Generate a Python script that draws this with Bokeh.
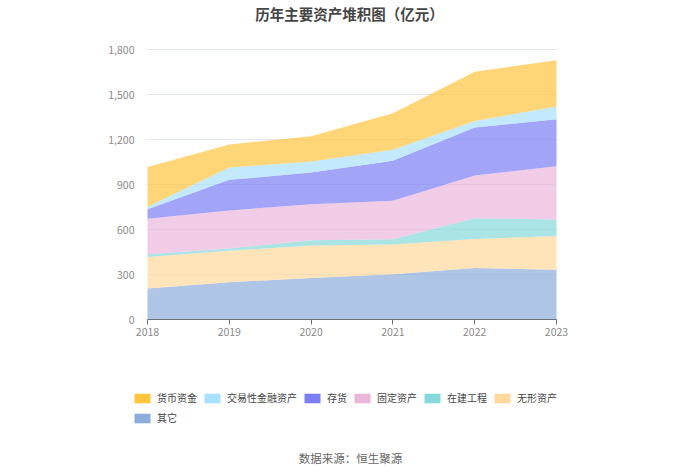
from bokeh.plotting import figure
from bokeh.models import (ColumnDataSource, Legend, LegendItem, Label, NumeralTickFormatter,
                          FixedTicker, Range1d)
from bokeh.embed import file_html
from bokeh.resources import INLINE

years = [2018, 2019, 2020, 2021, 2022, 2023]
qita = [206, 249, 277, 302, 344, 331]          # 其它
wuxing = [211, 209, 216, 198, 193, 226]        # 无形资产
zaijian = [18, 15, 36, 35, 138, 110]           # 在建工程
guding = [236, 254, 240, 256, 285, 355]        # 固定资产
cunhuo = [64, 204, 211, 267, 320, 313]         # 存货
jiaoyi = [16, 82, 73, 73, 44, 85]              # 交易性金融资产
huobi = [266, 154, 169, 244, 327, 309]         # 货币资金
yticks = [0, 300, 600, 900, 1200, 1500, 1800]

names = ["其它", "无形资产", "在建工程", "固定资产", "存货", "交易性金融资产", "货币资金"]
keys = ["qita", "wuxing", "zaijian", "guding", "cunhuo", "jiaoyi", "huobi"]
colors = ["#8CACDC", "#FFD99C", "#86D9DA", "#EAB7DB", "#7B7EF5", "#A8E1FB", "#FFC53D"]

src = ColumnDataSource(dict(x=years, qita=qita, wuxing=wuxing, zaijian=zaijian, guding=guding,
                            cunhuo=cunhuo, jiaoyi=jiaoyi, huobi=huobi))

font = "Noto Sans CJK SC"
W, H = 700, 473
# plot-area geometry in pixels (left, right, top, bottom)
L, R, T, B = 147, 556, 49, 319
x0, x1 = years[0], years[-1]
y0, y1 = yticks[0], yticks[-1]
xs = (R - L) / (x1 - x0)
ys = (B - T) / (y1 - y0)

p = figure(width=W, height=H, output_backend="svg", toolbar_location=None,
           x_range=Range1d(x0 - L / xs, x1 + (W - R) / xs),
           y_range=Range1d(y0 - (H - B) / ys, y1 + T / ys),
           min_border_left=0, min_border_right=0, min_border_top=0, min_border_bottom=0)
p.outline_line_color = None

# horizontal grid lines limited to the plot area
gsrc = ColumnDataSource(dict(y=yticks[1:], xa=[x0] * (len(yticks) - 1), xb=[x1] * (len(yticks) - 1)))
p.segment(x0="xa", x1="xb", y0="y", y1="y", source=gsrc, line_color="#E0E6F1", line_width=1)

rends = p.varea_stack(stackers=keys, x="x", source=src, fill_color=colors, fill_alpha=0.7)
swatch = p.varea_stack(stackers=keys, x="x", source=src, fill_color=colors, fill_alpha=1.0)
for r in swatch:
    r.visible = False

p.xgrid.visible = False
p.ygrid.visible = False
p.xaxis.fixed_location = y0
p.yaxis.fixed_location = x0
p.xaxis.bounds = (x0, x1)
p.xaxis.ticker = FixedTicker(ticks=years)
p.yaxis.ticker = FixedTicker(ticks=yticks)
p.yaxis.formatter = NumeralTickFormatter(format="0,0")
p.yaxis.axis_line_color = None
p.yaxis.major_tick_line_color = None
p.yaxis.minor_tick_line_color = None
p.yaxis.major_label_standoff = 7
p.xaxis.axis_line_color = "#6E7079"
p.xaxis.major_tick_line_color = "#6E7079"
p.xaxis.major_tick_out = 5
p.xaxis.major_tick_in = 0
p.xaxis.minor_tick_line_color = None
p.xaxis.major_label_standoff = 3
for ax in (p.xaxis, p.yaxis):
    ax.major_label_text_font = font
    ax.major_label_text_font_size = "10.5px"
    ax.major_label_text_color = "#8A8A8A"

items = [LegendItem(label=names[i], renderers=[swatch[i]]) for i in range(6, -1, -1)]
leg = Legend(items=items, orientation="horizontal", ncols=6, location=(132, 48),
             glyph_width=20, glyph_height=12, label_standoff=5, spacing=5,
             label_text_font=font, label_text_font_size="10px", label_text_color="#444444",
             border_line_color=None, background_fill_alpha=0, padding=0, margin=0,
             label_height=12, inactive_fill_alpha=0, click_policy="none")
p.add_layout(leg, "center")

title = Label(x=349, y=H - 13, x_units="screen", y_units="screen", text="历年主要资产堆积图（亿元）",
              text_font=font, text_font_size="14.5px", text_font_style="bold", text_color="#464646",
              text_align="center", text_baseline="middle")
note = Label(x=350, y=H - 457, x_units="screen", y_units="screen", text="数据来源：恒生聚源",
             text_font=font, text_font_size="11.5px", text_color="#666666",
             text_align="center", text_baseline="middle")
p.add_layout(title)
p.add_layout(note)

open("out.html", "w").write(file_html(p, INLINE))
